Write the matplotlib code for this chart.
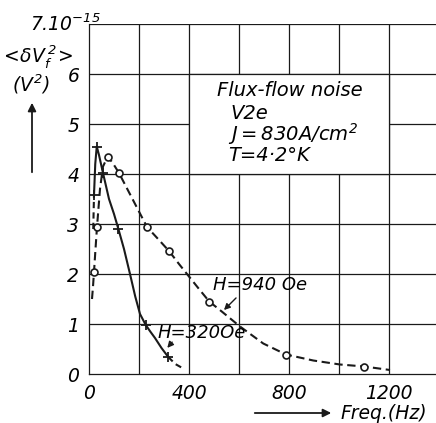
import matplotlib
matplotlib.use("Agg")
import matplotlib.pyplot as plt
from matplotlib.patches import Rectangle, FancyArrowPatch

# measured points (Hz, 1e-15 V^2)
f_320 = [20, 31, 56, 117, 227, 317]
v_320 = [3.58, 4.55, 4.02, 2.91, 0.98, 0.34]
f_940 = [20, 32, 75, 120, 232, 320, 481, 788, 1101]
v_940 = [2.04, 2.94, 4.35, 4.02, 2.94, 2.46, 1.45, 0.39, 0.15]

# hand-drawn curves
curve_320_f = [20, 25, 31, 40, 56, 80, 100, 117, 140, 164, 185, 204, 227, 245, 264, 290, 317]
curve_320_v = [3.58, 4.2, 4.55, 4.38, 4.02, 3.5, 3.2, 2.91, 2.5, 2.0, 1.55, 1.2, 0.98, 0.85, 0.72, 0.52, 0.34]
lead_320_f = [17, 20]
lead_320_v = [2.9, 3.58]
tail_320_f = [317, 345, 377]
tail_320_v = [0.34, 0.2, 0.11]
curve_940_f = [12, 16, 20, 26, 32, 44, 56, 75, 95, 120, 176, 232, 280, 320, 360, 400, 440, 481,
               531, 604, 697, 788, 897, 1004, 1101, 1204]
curve_940_v = [1.5, 1.75, 2.04, 2.5, 2.94, 3.7, 4.15, 4.35, 4.22, 4.02, 3.48, 2.94, 2.68, 2.46, 2.2, 1.95, 1.7, 1.45,
               1.25, 0.95, 0.61, 0.39, 0.27, 0.19, 0.15, 0.08]

x_ticks = [0, 400, 800, 1200]
y_ticks = [0, 1, 2, 3, 4, 5, 6]

plt.rcParams["mathtext.default"] = "it"
plt.rcParams["font.family"] = "DejaVu Sans"
plt.rcParams["font.style"] = "italic"

fig = plt.figure(figsize=(4.36, 4.23), dpi=100)
ax = fig.add_axes([89 / 436, 1 - 374 / 423, 1 - 89 / 436, (374 - 24) / 423])
ax.set_xlim(0, 1388)
ax.set_ylim(0, 7)

ink = "#1a1a1a"
for x in range(200, 1400, 200):
    ax.axvline(x, color=ink, lw=0.9, zorder=1)
for y in range(1, 8):
    ax.axhline(y, color=ink, lw=0.9, zorder=1)
# blank panel behind the legend text
ax.add_patch(Rectangle((400, 4), 800, 2, facecolor="white", edgecolor=ink, lw=0.9, zorder=2))

for side in ["top", "right"]:
    ax.spines[side].set_visible(False)
for side in ["left", "bottom"]:
    ax.spines[side].set_color(ink)
    ax.spines[side].set_linewidth(0.9)

ax.set_xticks(x_ticks)
ax.set_yticks(y_ticks)
ax.tick_params(length=0, pad=7, labelsize=13.5)
ax.text(46, 6.86, r"$7.10^{-15}$", ha="right", va="baseline", fontsize=13.5, clip_on=False)

# H = 320 Oe
ax.plot(curve_320_f, curve_320_v, color=ink, lw=1.5, zorder=3)
ax.plot(lead_320_f, lead_320_v, color=ink, lw=1.5, dashes=(3, 2), zorder=3)
ax.plot(tail_320_f, tail_320_v, color=ink, lw=1.5, dashes=(3, 2), zorder=3)
ax.plot(f_320, v_320, ls="none", marker="+", ms=7, mew=1.3, color=ink, zorder=4)

# H = 940 Oe
ax.plot(curve_940_f, curve_940_v, color=ink, lw=1.5, dashes=(4, 2.2), zorder=3)
ax.plot(f_940, v_940, ls="none", marker="o", ms=5, mew=1.2, mfc="white", mec=ink, zorder=4)

ax.text(496, 1.78, "H=940 Oe", fontsize=13, va="center", ha="left", zorder=5)
ax.annotate("", xy=(532, 1.24), xytext=(596, 1.56),
            arrowprops=dict(arrowstyle="-|>", color=ink, lw=1.0, mutation_scale=9), zorder=5)
ax.text(276, 0.82, "H=320Oe", fontsize=13, va="center", ha="left", zorder=5)
ax.annotate("", xy=(306, 0.48), xytext=(340, 0.68),
            arrowprops=dict(arrowstyle="-|>", color=ink, lw=1.0, mutation_scale=9), zorder=5)

ax.text(512, 5.68, "Flux-flow noise", fontsize=14, va="center", zorder=5)
ax.text(564, 5.22, "V2e", fontsize=14, va="center", zorder=5)
ax.text(556, 4.80, r"$J=830A/cm^2$", fontsize=14, va="center", zorder=5)
ax.text(556, 4.38, "T=4·2°K", fontsize=14, va="center", zorder=5)

# axis captions
fig.text(36 / 436, 1 - 57 / 423, r"$<\!\delta V_f^{\,2}\!>$", fontsize=13.5, ha="center", va="center")
fig.text(31 / 436, 1 - 84 / 423, r"$(V^2)$", fontsize=13.5, ha="center", va="center")
fig.add_artist(FancyArrowPatch((32 / 436, 1 - 175 / 423), (32 / 436, 1 - 100 / 423),
                               transform=fig.transFigure, arrowstyle="-|>", mutation_scale=12,
                               color=ink, lw=1.3))
fig.add_artist(FancyArrowPatch((252 / 436, 1 - 413 / 423), (334 / 436, 1 - 413 / 423),
                               transform=fig.transFigure, arrowstyle="-|>", mutation_scale=12,
                               color=ink, lw=1.3))
fig.text(340 / 436, 1 - 413 / 423, "Freq.(Hz)", fontsize=13.5, ha="left", va="center")

fig.savefig("out.png", dpi=100)
